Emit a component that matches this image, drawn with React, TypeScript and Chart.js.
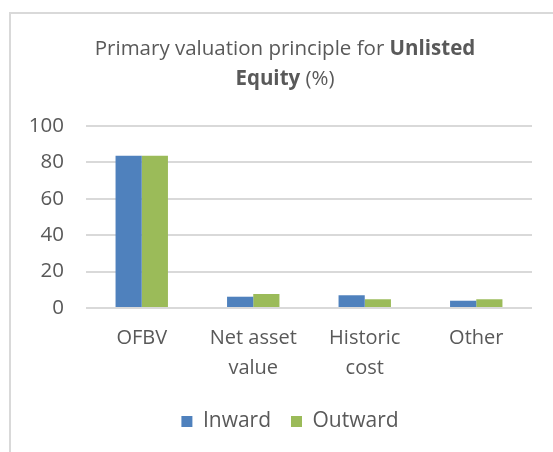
import React, { useEffect, useRef } from "react";
import { Chart, registerables } from "chart.js";

Chart.register(...registerables);

const categories: (string | string[])[] = ["OFBV", ["Net asset", "value"], ["Historic", "cost"], "Other"];
const inward = [83.7, 6.2, 7.0, 4.0];
const outward = [83.7, 7.7, 4.8, 4.8];
const yTicks = [0, 20, 40, 60, 80, 100];
const seriesNames = ["Inward", "Outward"];
const titleLine1 = [
  { text: "Primary valuation principle for ", bold: false },
  { text: "Unlisted", bold: true },
];
const titleLine2 = [
  { text: "Equity", bold: true },
  { text: " (%)", bold: false },
];

const FONT = "'Open Sans', 'Noto Sans', sans-serif";
const TEXT = "#595959";

const framePlugin = {
  id: "frame",
  afterLayout(chart: any) {
    const lg = chart.legend;
    if (lg) {
      lg.left += 16;
      lg.right += 16;
    }
  },
  beforeDraw(chart: any) {
    const ctx = chart.ctx;
    ctx.save();
    ctx.fillStyle = "#ffffff";
    ctx.fillRect(0, 0, chart.width, chart.height);
    ctx.strokeStyle = "#d9d9d9";
    ctx.lineWidth = 2;
    ctx.beginPath();
    ctx.moveTo(10, chart.height + 2);
    ctx.lineTo(10, 13);
    ctx.lineTo(chart.width + 2, 13);
    ctx.stroke();
    ctx.restore();
  },
  afterDraw(chart: any) {
    const ctx = chart.ctx;
    ctx.save();
    ctx.fillStyle = TEXT;
    ctx.textBaseline = "middle";
    ctx.textAlign = "left";
    const size = 20.5;
    const drawLine = (parts: { text: string; bold: boolean }[], cx: number, cy: number) => {
      let total = 0;
      const widths = parts.map((p) => {
        ctx.font = `${p.bold ? "bold " : ""}${size}px ${FONT}`;
        const w = ctx.measureText(p.text).width;
        total += w;
        return w;
      });
      let x = cx - total / 2;
      parts.forEach((p, i) => {
        ctx.font = `${p.bold ? "bold " : ""}${size}px ${FONT}`;
        ctx.fillText(p.text, x, cy);
        x += widths[i];
      });
    };
    drawLine(titleLine1, 285, 49);
    drawLine(titleLine2, 285, 79);
    ctx.restore();
  },
};

export default function App() {
  const ref = useRef<HTMLCanvasElement | null>(null);
  useEffect(() => {
    if (!ref.current) return;
    const chart = new Chart(ref.current, {
      type: "bar",
      data: {
        labels: categories,
        datasets: [
          { label: seriesNames[0], data: inward, backgroundColor: "#4f81bd", borderWidth: 0 },
          { label: seriesNames[1], data: outward, backgroundColor: "#9bbb59", borderWidth: 0 },
        ],
      },
      options: {
        responsive: false,
        animation: false,
        layout: { padding: { top: 126, left: 16, right: 21, bottom: 10 } },
        datasets: { bar: { categoryPercentage: 0.47, barPercentage: 1 } },
        scales: {
          x: {
            grid: { display: false, drawTicks: false },
            border: { display: false },
            ticks: {
              color: TEXT,
              font: { family: FONT, size: 20, lineHeight: 1.5 },
              padding: 15,
              maxRotation: 0,
              autoSkip: false,
            },
            afterFit: (s: any) => {
              s.height = 83;
            },
          },
          y: {
            min: 0,
            max: 100,
            afterBuildTicks: (s: any) => {
              s.ticks = yTicks.map((v) => ({ value: v }));
            },
            grid: { color: "#d9d9d9", lineWidth: 2, drawTicks: false },
            border: { display: false },
            ticks: {
              color: TEXT,
              font: { family: FONT, size: 20.5 },
              padding: 22,
            },
            afterFit: (s: any) => {
              s.width = 70;
            },
          },
        },
        plugins: {
          legend: {
            position: "bottom",
            labels: {
              color: TEXT,
              font: { family: FONT, size: 21 },
              boxWidth: 11,
              boxHeight: 11,
              padding: 20,
            },
          },
          title: { display: false },
          tooltip: { enabled: false },
        },
      },
      plugins: [framePlugin],
    });
    return () => chart.destroy();
  }, []);
  return (
    <div style={{ position: "fixed", left: 0, top: 0, width: 553, height: 452, background: "#fff" }}>
      <canvas ref={ref} width={553} height={452} />
    </div>
  );
}
